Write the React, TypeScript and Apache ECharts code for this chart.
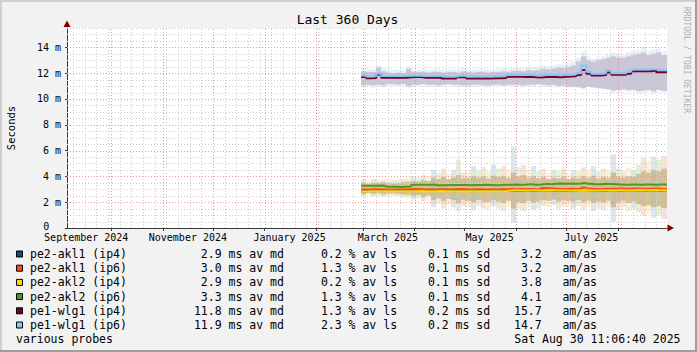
import React, { useEffect, useRef } from 'react';
import * as echarts from 'echarts';

const DAY = 86400000;
const END = Date.UTC(2025, 7, 30, 11, 6, 40);
const START = END - 360 * DAY;
const SAMPLE_START = Date.UTC(2025, 1, 28);
const STEP = 3 * DAY;
const Y_MAX = 15.5;

const FONT = "'DejaVu Sans Mono', monospace";

// legend / series meta
const seriesNames = ['pe2-akl1 (ip4)', 'pe2-akl1 (ip6)', 'pe2-akl2 (ip4)', 'pe2-akl2 (ip6)', 'pe1-wlg1 (ip4)', 'pe1-wlg1 (ip6)'];
const seriesColors = ['#0d4a7e', '#ff4a12', '#ffd800', '#4e9a1c', '#7a0025', '#80c8ff'];
const medianAvg = [2.9, 3.0, 2.9, 3.3, 11.8, 11.9];
const lossAvg = [0.2, 1.3, 0.2, 1.3, 1.3, 2.3];
const sdAvg = [0.1, 0.1, 0.1, 0.1, 0.2, 0.2];
const amasAvg = [3.2, 3.2, 3.8, 4.1, 15.7, 14.7];

// axis labels
const xLabelDates = [Date.UTC(2024, 8, 16), Date.UTC(2024, 10, 16), Date.UTC(2025, 0, 16), Date.UTC(2025, 2, 16), Date.UTC(2025, 4, 16), Date.UTC(2025, 6, 16)];
const xLabels = ['September 2024', 'November 2024', 'January 2025', 'March 2025', 'May 2025', 'July 2025'];
const yLabelValues = [0, 2, 4, 6, 8, 10, 12, 14];

// medians (ms), one value per 3-day step from 28 Feb 2025
const medAkl1Ip4 = [2.85, 2.88, 2.88, 2.88, 2.88, 2.86, 2.88, 2.88, 2.88, 2.9, 2.9, 2.9, 2.88, 2.9, 2.88, 2.9, 2.88, 2.88, 2.86, 2.88, 2.88, 2.88, 2.88, 2.9, 2.88, 2.86, 2.88, 2.86, 2.88, 2.9, 2.9, 2.92, 2.9, 2.92, 2.9, 2.9, 2.95, 2.92, 2.9, 2.92, 2.9, 2.9, 2.92, 2.95, 3.0, 2.92, 2.9, 2.9, 2.9, 2.92, 2.92, 2.9, 2.92, 2.95, 2.92, 2.92, 2.9, 2.92, 2.92, 2.9, 2.92];
const medAkl1Ip6 = [2.98, 2.98, 3.0, 2.98, 2.98, 2.96, 2.98, 2.98, 2.98, 3.0, 3.02, 3.0, 2.98, 3.0, 2.98, 3.0, 3.0, 2.98, 3.0, 3.02, 3.0, 2.98, 3.0, 3.0, 2.98, 3.0, 2.98, 3.0, 3.0, 3.02, 3.0, 3.02, 3.0, 3.02, 3.0, 3.02, 3.1, 3.08, 3.05, 3.02, 3.02, 3.04, 3.02, 3.05, 3.12, 3.04, 3.02, 3.02, 3.04, 3.05, 3.04, 3.06, 3.05, 3.04, 3.06, 3.05, 3.04, 3.05, 3.06, 3.04, 3.02];
const medAkl2Ip4 = [2.82, 2.84, 2.84, 2.85, 2.84, 2.84, 2.85, 2.84, 2.84, 2.85, 2.85, 2.86, 2.85, 2.84, 2.85, 2.86, 2.85, 2.84, 2.85, 2.85, 2.84, 2.85, 2.84, 2.85, 2.84, 2.85, 2.84, 2.84, 2.86, 2.9, 2.92, 2.92, 2.9, 2.92, 2.92, 2.9, 2.95, 2.94, 2.92, 2.92, 2.92, 2.9, 2.92, 2.93, 2.98, 2.92, 2.9, 2.92, 2.92, 2.93, 2.92, 2.94, 2.92, 2.93, 2.95, 2.94, 2.92, 2.94, 2.95, 2.93, 2.92];
const medAkl2Ip6 = [3.28, 3.28, 3.28, 3.3, 3.26, 3.2, 3.2, 3.18, 3.2, 3.22, 3.35, 3.36, 3.35, 3.36, 3.38, 3.32, 3.32, 3.34, 3.33, 3.34, 3.33, 3.32, 3.34, 3.33, 3.36, 3.34, 3.32, 3.33, 3.35, 3.36, 3.38, 3.36, 3.37, 3.4, 3.36, 3.38, 3.42, 3.4, 3.42, 3.44, 3.43, 3.44, 3.42, 3.45, 3.5, 3.42, 3.4, 3.4, 3.42, 3.41, 3.4, 3.38, 3.36, 3.37, 3.38, 3.36, 3.37, 3.38, 3.36, 3.38, 3.37];
const medWlgIp4 = [11.7, 11.6, 11.62, 11.9, 11.65, 11.65, 11.65, 11.65, 11.65, 11.68, 11.7, 11.7, 11.65, 11.65, 11.65, 11.65, 11.58, 11.58, 11.58, 11.68, 11.68, 11.58, 11.6, 11.58, 11.6, 11.58, 11.6, 11.6, 11.62, 11.72, 11.75, 11.73, 11.7, 11.72, 11.68, 11.66, 11.7, 11.72, 11.7, 11.68, 11.73, 11.74, 11.76, 11.85, 12.25, 11.95, 11.82, 11.82, 11.85, 12.05, 11.88, 11.88, 11.88, 11.95, 12.15, 12.15, 12.15, 12.15, 12.2, 12.08, 12.08];
const medWlgIp6 = [11.82, 11.75, 11.78, 11.98, 11.78, 11.78, 11.8, 11.78, 11.8, 11.8, 11.82, 11.8, 11.78, 11.8, 11.78, 11.8, 11.75, 11.74, 11.75, 11.8, 11.82, 11.74, 11.75, 11.74, 11.75, 11.74, 11.76, 11.76, 11.78, 11.85, 11.88, 11.86, 11.85, 11.86, 11.84, 11.82, 11.85, 11.86, 11.85, 11.84, 11.86, 11.88, 11.92, 12.0, 12.6, 12.1, 11.95, 11.95, 12.0, 12.22, 12.0, 12.0, 12.0, 12.1, 12.28, 12.28, 12.28, 12.3, 12.3, 12.25, 12.25];

// smoke (ms): outer and core spread of the pings, same 3-day steps
const aklOuterHi = [3.75, 3.7, 3.8, 3.7, 3.75, 3.8, 3.7, 3.75, 3.8, 3.9, 4.0, 3.9, 4.1, 4.0, 4.5, 4.3, 4.6, 4.2, 4.5, 5.3, 4.3, 4.4, 4.8, 4.5, 4.7, 4.4, 4.9, 4.6, 4.8, 4.5, 6.3, 4.7, 4.9, 4.5, 4.8, 4.4, 4.6, 4.3, 4.5, 4.4, 4.6, 4.2, 4.5, 4.4, 4.7, 4.5, 4.8, 4.4, 4.6, 4.5, 5.7, 4.6, 4.4, 4.7, 4.5, 4.9, 5.4, 5.2, 5.5, 5.3, 5.6];
const aklOuterLo = [2.45, 2.5, 2.45, 2.5, 2.4, 2.45, 2.5, 2.45, 2.4, 2.3, 2.2, 2.3, 2.1, 2.2, 1.6, 1.9, 1.5, 1.8, 1.6, 1.3, 1.7, 1.6, 1.4, 1.7, 1.5, 1.4, 1.7, 1.5, 1.3, 1.6, 0.4, 1.5, 1.3, 1.6, 1.4, 1.5, 1.7, 1.6, 1.8, 1.5, 1.7, 1.6, 1.5, 1.7, 1.4, 1.6, 1.3, 1.5, 1.4, 1.6, 0.5, 1.4, 1.6, 1.3, 1.5, 1.2, 1.0, 1.1, 0.8, 1.0, 0.7];
const aklCoreHi = [3.5, 3.45, 3.5, 3.5, 3.55, 3.5, 3.45, 3.5, 3.55, 3.6, 3.65, 3.6, 3.7, 3.65, 3.9, 3.8, 3.95, 3.8, 3.9, 4.1, 3.85, 3.9, 4.0, 3.9, 4.0, 3.85, 4.05, 3.95, 4.0, 3.9, 4.3, 4.0, 4.1, 3.9, 4.0, 3.85, 3.95, 3.8, 3.9, 3.85, 3.95, 3.8, 3.9, 3.85, 4.0, 3.9, 4.05, 3.85, 3.95, 3.9, 4.3, 3.95, 3.9, 4.0, 3.95, 4.2, 4.4, 4.3, 4.5, 4.4, 4.6];
const aklCoreLo = [2.65, 2.7, 2.65, 2.7, 2.6, 2.65, 2.7, 2.65, 2.6, 2.55, 2.5, 2.55, 2.4, 2.5, 2.15, 2.3, 2.1, 2.25, 2.15, 1.9, 2.2, 2.1, 2.0, 2.15, 2.05, 2.0, 2.15, 2.05, 1.95, 2.1, 1.5, 2.0, 1.95, 2.1, 2.0, 2.05, 2.15, 2.1, 2.2, 2.05, 2.15, 2.1, 2.05, 2.15, 2.0, 2.1, 1.95, 2.05, 2.0, 2.1, 1.6, 2.0, 2.1, 1.95, 2.05, 1.85, 1.7, 1.75, 1.6, 1.7, 1.55];
const wlgOuterHi = [12.4, 12.35, 12.3, 12.6, 12.4, 12.3, 12.25, 12.3, 12.25, 12.5, 12.3, 12.3, 12.35, 12.3, 12.3, 12.35, 12.3, 12.3, 12.35, 12.3, 12.4, 12.35, 12.3, 12.3, 12.35, 12.3, 12.3, 12.35, 12.4, 12.35, 12.4, 12.45, 12.4, 12.5, 12.45, 12.5, 12.6, 12.55, 12.6, 12.7, 12.65, 12.8, 12.9, 13.2, 13.7, 13.3, 13.1, 13.2, 13.3, 13.4, 13.6, 13.5, 13.4, 13.6, 13.7, 13.8, 14.0, 13.7, 13.8, 13.9, 13.7];
const wlgOuterLo = [10.9, 10.95, 10.85, 10.95, 10.9, 11.0, 11.0, 10.95, 11.0, 10.85, 10.9, 11.0, 11.05, 10.95, 11.0, 10.95, 11.0, 11.05, 10.95, 11.0, 10.95, 10.9, 10.95, 11.0, 10.95, 10.9, 10.95, 11.0, 10.95, 11.0, 10.95, 11.0, 10.95, 11.0, 10.95, 11.05, 11.0, 10.95, 11.0, 10.9, 10.95, 10.85, 10.9, 10.95, 10.75, 10.95, 10.85, 10.8, 10.75, 10.7, 10.45, 10.55, 10.65, 10.55, 10.6, 10.45, 10.5, 10.55, 10.45, 10.6, 10.5];
const wlgCoreHi = [12.15, 12.1, 12.1, 12.45, 12.15, 12.05, 12.0, 12.05, 12.0, 12.35, 12.1, 12.1, 12.1, 12.05, 12.1, 12.1, 12.05, 12.1, 12.1, 12.05, 12.15, 12.1, 12.05, 12.1, 12.1, 12.05, 12.1, 12.1, 12.15, 12.1, 12.2, 12.2, 12.15, 12.25, 12.2, 12.25, 12.35, 12.3, 12.35, 12.45, 12.4, 12.5, 12.6, 12.9, 13.3, 13.0, 12.9, 13.0, 13.1, 13.2, 13.3, 13.2, 13.2, 13.3, 13.4, 13.5, 13.6, 13.4, 13.5, 13.6, 13.4];
const wlgCoreLo = [11.05, 11.1, 11.05, 11.1, 11.05, 11.15, 11.15, 11.1, 11.15, 11.0, 11.1, 11.1, 11.15, 11.1, 11.1, 11.05, 11.1, 11.15, 11.1, 11.1, 11.05, 11.05, 11.1, 11.1, 11.05, 11.05, 11.1, 11.1, 11.05, 11.1, 11.1, 11.1, 11.05, 11.1, 11.1, 11.15, 11.1, 11.05, 11.1, 11.0, 11.05, 10.95, 10.95, 10.9, 10.85, 10.95, 10.9, 10.85, 10.8, 10.75, 10.65, 10.7, 10.75, 10.7, 10.7, 10.6, 10.65, 10.7, 10.6, 10.7, 10.65];

const medians = [medAkl1Ip4, medAkl1Ip6, medAkl2Ip4, medAkl2Ip6, medWlgIp4, medWlgIp6];

// grid positions (axis ticks)
function monthStarts(): number[] {
  const out: number[] = [];
  for (let y = 2024, m = 8; ; ) {
    const t = Date.UTC(y, m, 1);
    if (t > END) break;
    if (t >= START) out.push(t);
    m++;
    if (m > 11) { m = 0; y++; }
  }
  return out;
}
function weekStarts(): number[] {
  const out: number[] = [];
  for (let t = Date.UTC(2024, 8, 8); t <= END; t += 7 * DAY) out.push(t);
  return out;
}
const MONTHS = monthStarts();
const WEEKS = weekStarts();
const H_MINOR: number[] = [];
for (let v = 0.5; v <= Y_MAX + 0.001; v += 0.5) if (v % 2 !== 0) H_MINOR.push(v);
const H_MAJOR = [2, 4, 6, 8, 10, 12, 14];

const AKL_OUTER_COLORS = ['rgba(240,165,145,0.32)', 'rgba(175,208,135,0.32)', 'rgba(150,175,205,0.32)', 'rgba(235,215,125,0.32)'];

function gridSeries(values: number[], vertical: boolean, color: string) {
  return {
    type: 'custom',
    silent: true,
    z: 3,
    data: values.map((v) => (vertical ? [v, 0] : [START, v])),
    renderItem: (params: any, api: any) => {
      const a = vertical ? api.coord([api.value(0), 0]) : api.coord([START, api.value(1)]);
      const b = vertical ? api.coord([api.value(0), Y_MAX]) : api.coord([END, api.value(1)]);
      const x1 = Math.round(a[0]) + 0.5;
      const y1 = Math.round(a[1]) + 0.5;
      return {
        type: 'line',
        shape: vertical ? { x1, y1: a[1], x2: x1, y2: b[1] } : { x1: a[0], y1, x2: b[0], y2: y1 },
        style: { stroke: color, lineWidth: 1, lineDash: [1, 2] },
      };
    },
  };
}

function smokeSeries(lo: number[], hi: number[], colorFn: (k: number) => string, z: number) {
  return {
    type: 'custom',
    silent: true,
    z,
    data: lo.map((l, k) => [SAMPLE_START + k * STEP, l, hi[k], k]),
    renderItem: (params: any, api: any) => {
      const t = api.value(0);
      const l = api.value(1);
      const h = api.value(2);
      const k = api.value(3);
      const tEnd = k === lo.length - 1 ? END : t + STEP;
      const p1 = api.coord([t, h]);
      const p2 = api.coord([tEnd, l]);
      const x1 = Math.round(p1[0]);
      const x2 = Math.round(p2[0]);
      return {
        type: 'rect',
        shape: { x: x1, y: p1[1], width: x2 - x1, height: p2[1] - p1[1] },
        style: { fill: colorFn(k) },
      };
    },
  };
}

function fmt1(v: number) {
  return v.toFixed(1);
}

export default function App() {
  const ref = useRef<HTMLDivElement>(null);
  useEffect(() => {
    document.body.style.margin = '0';
    const chart = echarts.init(ref.current!, null, { renderer: 'svg' });

    const legendGraphics: any[] = [];
    const rowY = [254, 268.2, 282.4, 296.6, 310.8, 325];
    const tStyle = (text: string, x: number, y: number, align: string) => ({
      type: 'text',
      x,
      y,
      style: { text, fill: '#000', font: `11.5px ${FONT}`, align, verticalAlign: 'middle' },
    });
    seriesNames.forEach((name, i) => {
      const y = rowY[i];
      legendGraphics.push({
        type: 'rect',
        shape: { x: 16.5, y: y - 3, width: 6, height: 6 },
        style: { fill: seriesColors[i], stroke: '#000', lineWidth: 1 },
      });
      legendGraphics.push(tStyle(name, 30, y, 'left'));
      legendGraphics.push(tStyle(fmt1(medianAvg[i]), 221.6, y, 'right'));
      legendGraphics.push(tStyle('ms av md', 228.5, y, 'left'));
      legendGraphics.push(tStyle(fmt1(lossAvg[i]), 341.7, y, 'right'));
      legendGraphics.push(tStyle('% av ls', 348.6, y, 'left'));
      legendGraphics.push(tStyle(fmt1(sdAvg[i]), 448.7, y, 'right'));
      legendGraphics.push(tStyle('ms sd', 455.6, y, 'left'));
      legendGraphics.push(tStyle(fmt1(amasAvg[i]), 541.7, y, 'right'));
      legendGraphics.push(tStyle('am/as', 562.4, y, 'left'));
    });
    legendGraphics.push(tStyle('various probes', 16, 338.6, 'left'));
    legendGraphics.push(tStyle('Sat Aug 30 11:06:40 2025', 680.5, 338.6, 'right'));

    const medianSeries = medians.map((vals, i) => ({
      type: 'line',
      name: seriesNames[i],
      step: 'end',
      symbol: 'none',
      showSymbol: false,
      silent: true,
      z: 5,
      data: [...vals.map((v, k) => [SAMPLE_START + k * STEP, v]), [END, vals[vals.length - 1]]],
      lineStyle: { color: seriesColors[i], width: 2 },
    }));

    const option: any = {
      animation: false,
      backgroundColor: 'transparent',
      grid: { left: 67, top: 28, width: 600, height: 200, show: true, backgroundColor: '#ffffff', borderWidth: 0 },
      xAxis: {
        type: 'value',
        min: START,
        max: END,
        axisLine: { show: true, lineStyle: { color: '#3a3a3a', width: 1 } },
        axisTick: { show: true, customValues: MONTHS, length: 3, lineStyle: { color: '#3a3a3a' } },
        axisLabel: {
          customValues: xLabelDates,
          formatter: (v: number) => {
            const i = xLabelDates.findIndex((d) => Math.abs(d - v) < DAY / 2);
            return i >= 0 ? xLabels[i] : '';
          },
          fontFamily: FONT,
          fontSize: 10,
          color: '#000',
          margin: 4,
        },
        splitLine: { show: false },
      },
      yAxis: {
        type: 'value',
        min: 0,
        max: Y_MAX,
        axisLine: { show: true, lineStyle: { color: '#3a3a3a', width: 1 } },
        axisTick: { show: true, customValues: yLabelValues, length: 2, lineStyle: { color: '#3a3a3a' } },
        axisLabel: {
          customValues: yLabelValues,
          formatter: (v: number) => (v === 0 ? '{z|0}' : `${v} m`),
          rich: { z: { padding: [0, 11.8, 3, 0], fontFamily: FONT, fontSize: 10, color: '#000' } },
          fontFamily: FONT,
          fontSize: 10,
          color: '#000',
          margin: 6,
        },
        splitLine: { show: false },
      },
      series: [
        smokeSeries(wlgOuterLo, wlgOuterHi, () => 'rgba(205,232,250,0.5)', 1),
        smokeSeries(wlgCoreLo, wlgCoreHi, () => 'rgba(165,135,165,0.42)', 2),
        smokeSeries(aklOuterLo, aklOuterHi, (k) => AKL_OUTER_COLORS[(k * 3) % 4], 1),
        smokeSeries(aklCoreLo, aklCoreHi, () => 'rgba(180,160,100,0.55)', 2),
        gridSeries(WEEKS, true, '#cdcdcd'),
        gridSeries(H_MINOR, false, '#cdcdcd'),
        gridSeries(MONTHS, true, '#f09595'),
        gridSeries(H_MAJOR, false, '#f09595'),
        ...medianSeries,
      ],
      graphic: [
        { type: 'rect', shape: { x: 0, y: 0, width: 697, height: 2 }, style: { fill: '#cfcfcf' }, silent: true },
        { type: 'rect', shape: { x: 0, y: 0, width: 2, height: 352 }, style: { fill: '#cfcfcf' }, silent: true },
        { type: 'rect', shape: { x: 0, y: 350, width: 697, height: 2 }, style: { fill: '#9e9e9e' }, silent: true },
        { type: 'rect', shape: { x: 695, y: 0, width: 2, height: 352 }, style: { fill: '#9e9e9e' }, silent: true },
        { type: 'polygon', shape: { points: [[63.5, 27], [70.5, 27], [67, 20.5]] }, style: { fill: '#7f0000' }, silent: true },
        { type: 'polygon', shape: { points: [[667.5, 224.5], [667.5, 231.5], [674, 228]] }, style: { fill: '#7f0000' }, silent: true },
        {
          type: 'text', x: 347.5, y: 19.3,
          style: { text: 'Last 360 Days', fill: '#000', font: `13px ${FONT}`, align: 'center', verticalAlign: 'middle' },
        },
        {
          type: 'text', x: 10.5, y: 128, rotation: Math.PI / 2,
          style: { text: 'Seconds', fill: '#000', font: `10.5px ${FONT}`, align: 'center', verticalAlign: 'middle' },
        },
        {
          type: 'text', x: 686, y: 60, rotation: -Math.PI / 2,
          style: { text: 'RRDTOOL / TOBI OETIKER', fill: '#b0b0b0', font: `8px ${FONT}`, align: 'center', verticalAlign: 'middle' },
        },
        ...legendGraphics,
      ],
    };
    chart.setOption(option);
    return () => chart.dispose();
  }, []);
  return (
    <div
      ref={ref}
      style={{ position: 'absolute', left: 0, top: 0, width: 697, height: 352, background: '#f2f2f2' }}
    />
  );
}
